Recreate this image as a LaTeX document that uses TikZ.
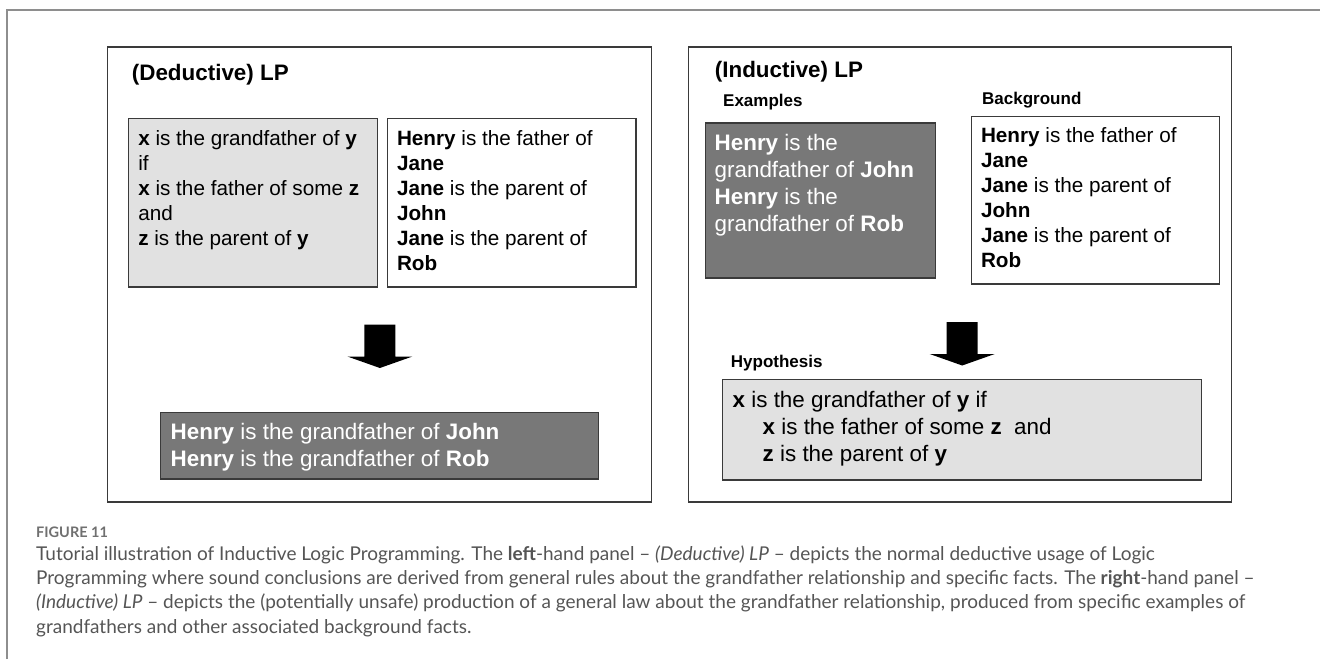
\documentclass[tikz,border=0pt]{standalone}
\usepackage{fontspec}
\setmainfont{Lato}
\newfontfamily\diafont{Liberation Sans}

\definecolor{lightfill}{HTML}{E1E1E1}
\definecolor{darkfill}{HTML}{787878}
\definecolor{edge}{HTML}{3A3A3A}
\definecolor{framegray}{HTML}{8E8E8E}
\definecolor{captext}{HTML}{555555}
\definecolor{figtag}{HTML}{707070}

% fixed-size text block, first line top-aligned
\newcommand{\lplines}[3]{\parbox[t][#2][t]{#1}{\raggedright\strut#3}}

\begin{document}
\begin{tikzpicture}[x=1pt, y=-1pt]
  \tikzstyle{panel}=[draw=edge, line width=1.4pt, anchor=north west, inner sep=0pt, outer sep=0pt]
  \tikzstyle{lpbox}=[draw=edge, line width=1.4pt, anchor=north west, outer sep=0pt,
    font=\diafont\fontsize{20.7}{25}\selectfont]
  \tikzstyle{lightbox}=[lpbox, fill=lightfill]
  \tikzstyle{darkbox}=[lpbox, fill=darkfill, text=white, font=\diafont\fontsize{22.4}{27}\selectfont]
  \tikzstyle{title}=[anchor=west, inner sep=0pt, font=\diafont\bfseries\fontsize{22.4}{27}\selectfont]
  \tikzstyle{tag}=[anchor=west, inner sep=0pt, font=\diafont\bfseries\fontsize{17}{20}\selectfont]

  \useasboundingbox (0,0) rectangle (1320,659);

  % outer frame
  \draw[framegray, line width=2.2pt] (7.3,659) -- (7.3,10) -- (1320,10);

  % left panel
  \node[panel, minimum width=544pt, minimum height=455pt] (dedpanel) at (107.5,47) {};
  \node[title] (dedtitle) at (131.7,75) {(Deductive) LP};

  \node[lightbox, inner xsep=10pt, inner ysep=9.5pt] (rules) at (128.3,118.3)
    {\lplines{229.2pt}{149.7pt}{\textbf{x} is the grandfather of \textbf{y}\\ if\\
      \textbf{x} is the father of some \textbf{z}\\ and\\ \textbf{z} is the parent of \textbf{y}}};
  \node[lpbox, fill=white, inner xsep=9.4pt, inner ysep=9.5pt] (facts) at (387.6,118.3)
    {\lplines{229.6pt}{149.7pt}{\textbf{Henry} is the father of\\ \textbf{Jane}\\
      \textbf{Jane} is the parent of\\ \textbf{John}\\ \textbf{Jane} is the parent of\\ \textbf{Rob}}};

  \node[darkbox, inner xsep=10pt, inner ysep=8pt] (concl) at (160.7,412.3)
    {\lplines{417.8pt}{50.7pt}{\textbf{Henry} is the grandfather of \textbf{John}\\
      \textbf{Henry} is the grandfather of \textbf{Rob}}};

  % right panel
  \node[panel, minimum width=543pt, minimum height=455pt] (indpanel) at (688.6,47) {};
  \node[title] (indtitle) at (714.7,72) {(Inductive) LP};
  \node[tag] (extag) at (723,102) {Examples};
  \node[tag] (bgtag) at (982,100) {Background};
  \node[tag] (hyptag) at (730.7,363) {Hypothesis};

  \node[darkbox, inner xsep=9.2pt, inner ysep=8.6pt] (examples) at (705.5,123)
    {\lplines{211.8pt}{137.8pt}{\textbf{Henry} is the\\ grandfather of \textbf{John}\\
      \textbf{Henry} is the\\ grandfather of \textbf{Rob}}};
  \node[lpbox, fill=white, inner xsep=9.5pt, inner ysep=7.8pt] (background) at (971.5,116.7)
    {\lplines{228.8pt}{151.7pt}{\textbf{Henry} is the father of\\ \textbf{Jane}\\
      \textbf{Jane} is the parent of\\ \textbf{John}\\ \textbf{Jane} is the parent of\\ \textbf{Rob}}};

  \node[lightbox, font=\diafont\fontsize{22.4}{27}\selectfont, inner xsep=10.4pt, inner ysep=9.1pt] (hypothesis) at (722.3,379.5)
    {\lplines{458.6pt}{82.3pt}{\textbf{x} is the grandfather of \textbf{y} if\\
      \hspace*{30pt}\textbf{x} is the father of some \textbf{z}\ \ and\\
      \hspace*{30pt}\textbf{z} is the parent of \textbf{y}}};

  % block arrows
  \foreach \cx/\ty in {379.9/324.5, 962.2/322}
    \fill (\cx-15.5,\ty) -- (\cx+15.5,\ty) -- (\cx+15.5,\ty+32) -- (\cx+32.5,\ty+32)
      -- (\cx,\ty+43.5) -- (\cx-32.5,\ty+32) -- (\cx-15.5,\ty+32) -- cycle;

  % caption
  \node[anchor=base west, inner sep=0pt, text=figtag, font=\bfseries\fontsize{14.5}{17}\selectfont] (figno) at (36,537) {FIGURE 11};
  \node[anchor=north west, inner sep=0pt, text=captext, font=\fontsize{19}{24.4}\selectfont] (caption) at (36,542.9)
    {\parbox[t]{1280pt}{\strut Tutorial illustration of Inductive Logic Programming. The \textbf{left}-hand panel -- \textit{(Deductive) LP} -- depicts the normal deductive usage of Logic\\
     Programming where sound conclusions are derived from general rules about the grandfather relationship and specific facts. The \textbf{right}-hand panel --\\
     \textit{(Inductive) LP} -- depicts the (potentially unsafe) production of a general law about the grandfather relationship, produced from specific examples of\\
     grandfathers and other associated background facts.}};
\end{tikzpicture}
\end{document}
